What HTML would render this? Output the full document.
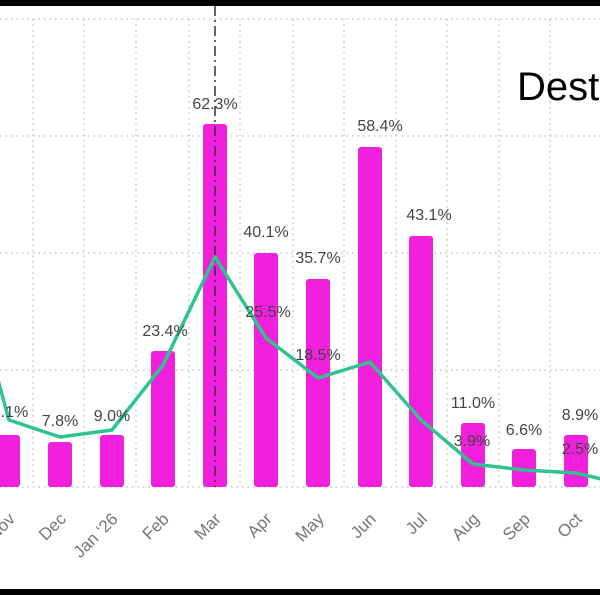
<!DOCTYPE html>
<html><head><meta charset="utf-8"><style>body{margin:0;background:#fff}svg{display:block}</style></head><body>
<svg width="600" height="595" xmlns="http://www.w3.org/2000/svg" font-family="Liberation Sans, sans-serif">
<rect width="600" height="595" fill="#fff"/>
<g stroke="#bbb" stroke-width="1.2" stroke-dasharray="1.5 4">
<line x1="0" y1="19" x2="600" y2="19"/><line x1="0" y1="136" x2="600" y2="136"/><line x1="0" y1="253" x2="600" y2="253"/><line x1="0" y1="370" x2="600" y2="370"/><line x1="0" y1="487" x2="600" y2="487"/>
<line x1="33" y1="19" x2="33" y2="487"/><line x1="84" y1="19" x2="84" y2="487"/><line x1="136" y1="19" x2="136" y2="487"/><line x1="189" y1="19" x2="189" y2="487"/><line x1="240" y1="19" x2="240" y2="487"/><line x1="293" y1="19" x2="293" y2="487"/><line x1="344" y1="19" x2="344" y2="487"/><line x1="396" y1="19" x2="396" y2="487"/><line x1="447" y1="19" x2="447" y2="487"/><line x1="499" y1="19" x2="499" y2="487"/><line x1="550" y1="19" x2="550" y2="487"/>
</g>
<g fill="#f020dc">
<rect x="-4" y="435" width="24" height="52" rx="3"/>
<rect x="48" y="442" width="24" height="45" rx="3"/>
<rect x="100" y="435" width="24" height="52" rx="3"/>
<rect x="151" y="351" width="24" height="136" rx="3"/>
<rect x="203" y="124" width="24" height="363" rx="3"/>
<rect x="254" y="253" width="24" height="234" rx="3"/>
<rect x="306" y="279" width="24" height="208" rx="3"/>
<rect x="358" y="147" width="24" height="340" rx="3"/>
<rect x="409" y="236" width="24" height="251" rx="3"/>
<rect x="461" y="423" width="24" height="64" rx="3"/>
<rect x="512" y="449" width="24" height="38" rx="3"/>
<rect x="564" y="435" width="24" height="52" rx="3"/>
</g>
<line x1="215" y1="6" x2="215" y2="487" stroke="#333" stroke-width="1.5" stroke-dasharray="10 4 2 4"/>
<polyline fill="none" stroke="#2ec48c" stroke-width="3.5" stroke-linejoin="round" points="-2,380 9,420 60,437 112,430 163,365 215,257 266,338 318,378 370,362 421,420 473,464 524,470 576,473 627,485"/>
<g font-size="16" fill="#444" text-anchor="middle">
<text x="215" y="109">62.3%</text><text x="266" y="237">40.1%</text><text x="318" y="263">35.7%</text><text x="380" y="131">58.4%</text><text x="429" y="220">43.1%</text><text x="165" y="336">23.4%</text><text x="60" y="426">7.8%</text><text x="112" y="421">9.0%</text><text x="473" y="408">11.0%</text><text x="524" y="435">6.6%</text><text x="580" y="420">8.9%</text>
<text x="10" y="417">4.1%</text><text x="268" y="317">25.5%</text><text x="318" y="360">18.5%</text><text x="472" y="446">3.9%</text><text x="580" y="454">2.5%</text>
</g>
<g font-size="17" fill="#777" text-anchor="end">
<text transform="translate(16,520) rotate(-45)">Nov</text>
<text transform="translate(67,520) rotate(-45)">Dec</text>
<text transform="translate(119,520) rotate(-45)">Jan ‘26</text>
<text transform="translate(170,520) rotate(-45)">Feb</text>
<text transform="translate(222,520) rotate(-45)">Mar</text>
<text transform="translate(273,520) rotate(-45)">Apr</text>
<text transform="translate(325,520) rotate(-45)">May</text>
<text transform="translate(377,520) rotate(-45)">Jun</text>
<text transform="translate(428,520) rotate(-45)">Jul</text>
<text transform="translate(480,520) rotate(-45)">Aug</text>
<text transform="translate(531,520) rotate(-45)">Sep</text>
<text transform="translate(583,520) rotate(-45)">Oct</text>
<text transform="translate(634,520) rotate(-45)">Nov</text>
</g>
<text x="517" y="100" font-size="40" fill="#000">Dest</text>
<rect x="0" y="0" width="600" height="6" fill="#000"/>
<rect x="0" y="589" width="600" height="6" fill="#000"/>
</svg>
</body></html>
